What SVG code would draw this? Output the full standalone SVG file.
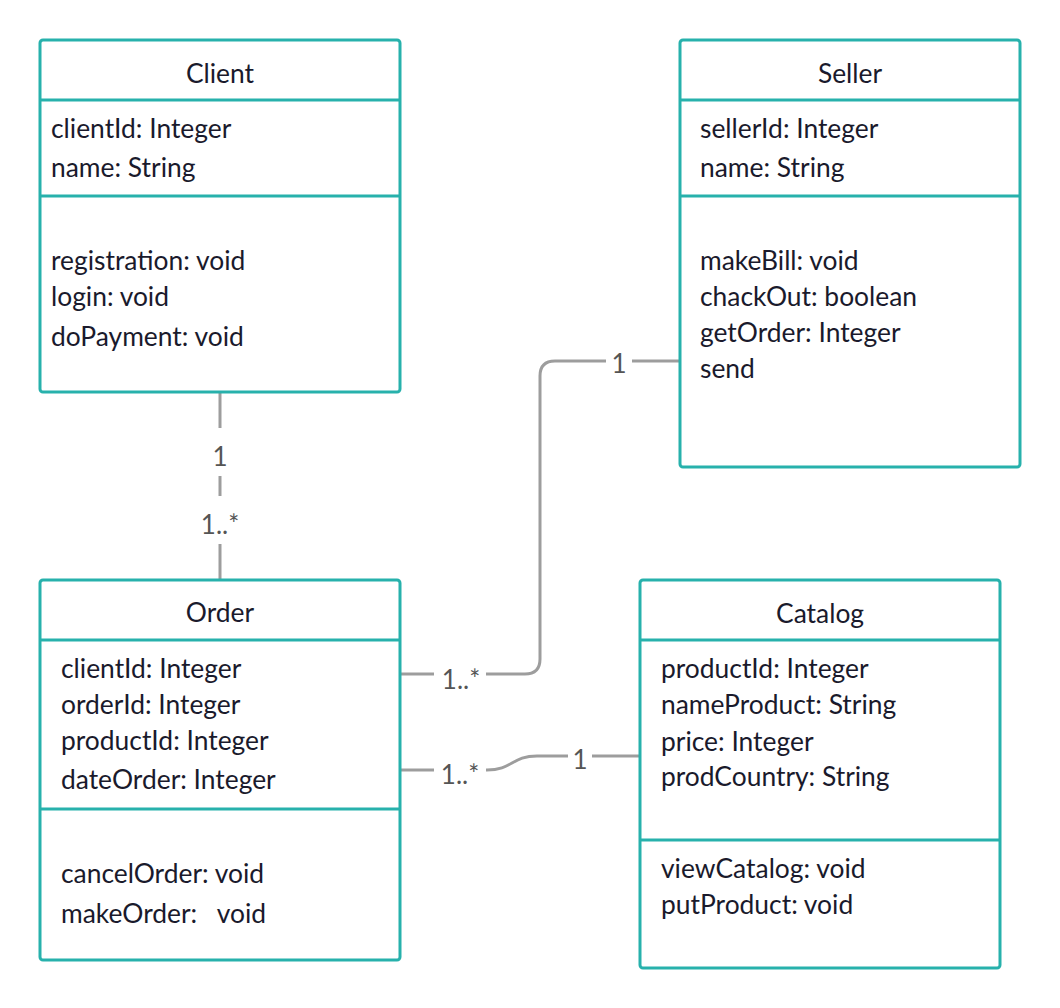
<svg xmlns="http://www.w3.org/2000/svg" width="1060" height="1008" viewBox="0 0 1060 1008">
<style>
.box{fill:#fff;stroke:#27b1ac;stroke-width:3}
.div{stroke:#27b1ac;stroke-width:3}
.t{font-family:Lato,"Liberation Sans",sans-serif;font-size:26.4px;fill:#1a1a2c}
.h{text-anchor:middle}
.c{fill:none;stroke:#9d9d9d;stroke-width:3}
.lb{font-family:Lato,"Liberation Sans",sans-serif;font-size:26px;fill:#555;text-anchor:middle}
</style>
<rect width="1060" height="1008" fill="#fff"/>
<g id="connectors">
<path class="c" d="M220,392 V580"/>
<path class="c" d="M400,674 H525 Q540,674 540,659 V376 Q540,361 555,361 H680"/>
<path class="c" d="M400,770 H487 C512,770 512,756 537,756 H640"/>
<rect x="205" y="428" width="30" height="48" fill="#fff"/>
<rect x="195" y="496" width="50" height="48" fill="#fff"/>
<rect x="434" y="660" width="52" height="30" fill="#fff"/>
<rect x="606" y="346" width="26" height="30" fill="#fff"/>
<rect x="434" y="755" width="52" height="30" fill="#fff"/>
<rect x="568" y="742" width="24" height="30" fill="#fff"/>
<text class="lb" x="220" y="466">1</text>
<text class="lb" x="220" y="534">1..*</text>
<text class="lb" x="461" y="689">1..*</text>
<text class="lb" x="619" y="373">1</text>
<text class="lb" x="460" y="784">1..*</text>
<text class="lb" x="580" y="769">1</text>
</g>
<g id="client">
<rect class="box" x="40" y="40" width="360" height="352" rx="3"/>
<line class="div" x1="40" y1="100" x2="400" y2="100"/>
<line class="div" x1="40" y1="196" x2="400" y2="196"/>
<text class="t h" x="220" y="83">Client</text>
<text class="t" x="51" y="138">clientId: Integer</text>
<text class="t" x="51" y="177">name: String</text>
<text class="t" x="51" y="270">registration: void</text>
<text class="t" x="51" y="306">login: void</text>
<text class="t" x="51" y="346">doPayment: void</text>
</g>
<g id="seller">
<rect class="box" x="680" y="40" width="340" height="427" rx="3"/>
<line class="div" x1="680" y1="100" x2="1020" y2="100"/>
<line class="div" x1="680" y1="196" x2="1020" y2="196"/>
<text class="t h" x="850" y="83">Seller</text>
<text class="t" x="700" y="138">sellerId: Integer</text>
<text class="t" x="700" y="177">name: String</text>
<text class="t" x="700" y="270">makeBill: void</text>
<text class="t" x="700" y="306">chackOut: boolean</text>
<text class="t" x="700" y="342">getOrder: Integer</text>
<text class="t" x="700" y="378">send</text>
</g>
<g id="order">
<rect class="box" x="40" y="580" width="360" height="380" rx="3"/>
<line class="div" x1="40" y1="640" x2="400" y2="640"/>
<line class="div" x1="40" y1="809" x2="400" y2="809"/>
<text class="t h" x="220" y="622">Order</text>
<text class="t" x="61" y="678">clientId: Integer</text>
<text class="t" x="61" y="714">orderId: Integer</text>
<text class="t" x="61" y="750">productId: Integer</text>
<text class="t" x="61" y="789">dateOrder: Integer</text>
<text class="t" x="61" y="883">cancelOrder: void</text>
<text class="t" x="61" y="923" xml:space="preserve">makeOrder:   void</text>
</g>
<g id="catalog">
<rect class="box" x="640" y="580" width="360" height="388" rx="3"/>
<line class="div" x1="640" y1="640" x2="1000" y2="640"/>
<line class="div" x1="640" y1="840" x2="1000" y2="840"/>
<text class="t h" x="820" y="623">Catalog</text>
<text class="t" x="661" y="678">productId: Integer</text>
<text class="t" x="661" y="714">nameProduct: String</text>
<text class="t" x="661" y="751">price: Integer</text>
<text class="t" x="661" y="786">prodCountry: String</text>
<text class="t" x="661" y="878">viewCatalog: void</text>
<text class="t" x="661" y="914">putProduct: void</text>
</g>
</svg>
